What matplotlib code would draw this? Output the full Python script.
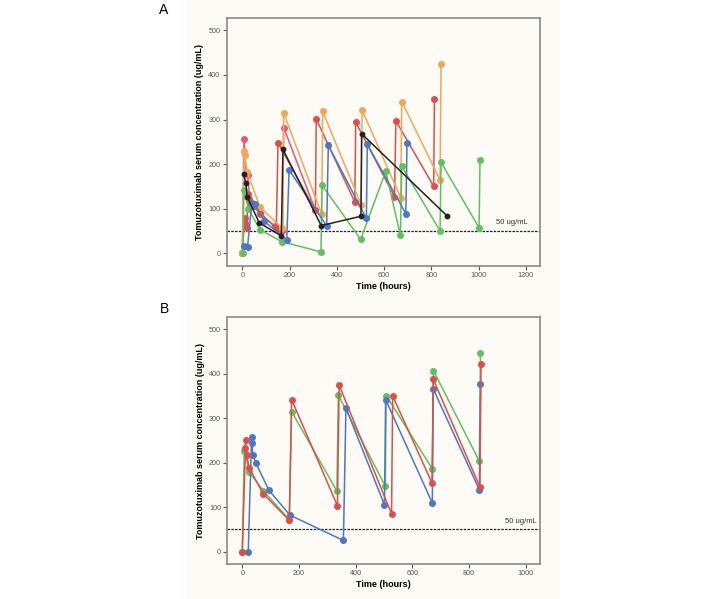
import matplotlib
matplotlib.use("Agg")
import matplotlib.pyplot as plt
from matplotlib.patches import Rectangle

# panel A: one (time, concentration) list per patient
a_red_t = [0, 10, 12, 18, 25, 30, 48, 75, 144, 151, 309, 313, 476, 480, 644, 650, 810, 813]
a_red_c = [0, 80, 68, 56, 132, 122, 105, 90, 57, 248, 96, 301, 115, 294, 127, 297, 150, 347]
a_pink_t = [0, 7, 16, 22, 33, 45, 75, 138, 170, 175, 308]
a_pink_c = [0, 256, 179, 176, 112, 110, 88, 60, 50, 282, 98]
a_orange_t = [0, 8, 10, 20, 75, 170, 175, 336, 340, 503, 507, 670, 675, 837, 841]
a_orange_c = [0, 230, 220, 183, 103, 56, 315, 87, 318, 109, 321, 125, 340, 164, 425]
a_blue_t = [5, 22, 40, 55, 92, 188, 198, 357, 364, 525, 529, 692, 697]
a_blue_c = [17, 14, 112, 110, 72, 30, 187, 61, 242, 78, 244, 89, 247]
a_green_t = [2, 7, 26, 75, 167, 333, 337, 501, 607, 669, 675, 837, 841, 1002, 1006]
a_green_c = [0, 142, 99, 53, 26, 3, 153, 31, 184, 40, 195, 50, 204, 57, 210]
a_black_t = [5, 15, 20, 72, 165, 172, 334, 502, 505, 868]
a_black_c = [178, 158, 127, 68, 39, 233, 62, 83, 268, 83]

# panel B
b_red_t = [0, 12, 10, 15, 25, 74, 166, 174, 336, 342, 527, 531, 670, 674, 839, 843]
b_red_c = [0, 250, 232, 218, 187, 130, 70, 342, 103, 374, 85, 350, 154, 388, 145, 421]
b_green_t = [0, 7, 25, 74, 166, 174, 334, 339, 505, 508, 671, 675, 837, 841]
b_green_c = [0, 227, 178, 137, 72, 315, 136, 352, 147, 351, 186, 407, 203, 447]
b_blue_t = [21, 33, 33, 37, 48, 94, 168, 357, 366, 502, 506, 671, 674, 837, 841]
b_blue_c = [0, 258, 245, 217, 199, 138, 82, 25, 323, 105, 342, 109, 366, 139, 377]

RED = "#dc4f4b"
PINK = "#e5577e"
ORANGE = "#f4a653"
BLUE = "#4b77c6"
GREEN = "#5fc25f"
BLACK = "#222222"

plt.rcParams["font.family"] = ["Liberation Sans", "DejaVu Sans"]

fig = plt.figure(figsize=(7.05, 5.99), dpi=100)
fig.patches.append(Rectangle((0.265, 0.0), 0.53, 1.0, transform=fig.transFigure,
                             facecolor="#fcfbf5", edgecolor="none", zorder=-10))

ax_a = fig.add_axes([0.3216, 0.5564, 0.4444, 0.413])
ax_b = fig.add_axes([0.3224, 0.0584, 0.4435, 0.4119])


def draw(ax, t, c, color, ms=4.0):
    ax.plot(t, c, color=color, lw=1.1, marker="o", ms=ms, mec=color, mfc=color, zorder=3)


draw(ax_a, a_pink_t, a_pink_c, PINK)
draw(ax_a, a_red_t, a_red_c, RED)
draw(ax_a, a_orange_t, a_orange_c, ORANGE)
draw(ax_a, a_green_t, a_green_c, GREEN)
draw(ax_a, a_blue_t, a_blue_c, BLUE)
draw(ax_a, a_black_t, a_black_c, BLACK, ms=3.2)

draw(ax_b, b_green_t, b_green_c, GREEN)
draw(ax_b, b_blue_t, b_blue_c, BLUE)
draw(ax_b, b_red_t, b_red_c, RED)

setups = [
    (ax_a, (-66, 1260), range(0, 1201, 200), 1209, "A"),
    (ax_b, (-53, 1051), range(0, 1001, 200), 1039, "B"),
]
for ax, xlim, xt, lab_x, letter in setups:
    ax.set_facecolor("#fcfbf5")
    ax.set_xlim(*xlim)
    ax.set_ylim(-28, 527)
    ax.set_xticks(list(xt))
    ax.set_yticks(range(0, 501, 100))
    ax.axhline(50, color="#222222", lw=0.9, ls=(0, (2, 1)), zorder=2)
    ax.text(lab_x, 60, "50 ug/mL", fontsize=5.5, color="#333333", ha="right", va="bottom")
    ax.set_xlabel("Time (hours)", fontsize=6.5, fontweight="bold", labelpad=2)
    ax.set_ylabel("Tomuzotuximab serum concentration (ug/mL)", fontsize=6.5,
                  fontweight="bold", labelpad=3)
    ax.tick_params(labelsize=5.2, colors="#555555", length=3, width=0.8, pad=1.5)
    for s in ax.spines.values():
        s.set_color("#8a8a8a")
        s.set_linewidth(1.2)
    ax.text(-0.215, 1.005, letter, transform=ax.transAxes, fontsize=10, ha="left", va="bottom")

fig.savefig("out.png", dpi=100)
